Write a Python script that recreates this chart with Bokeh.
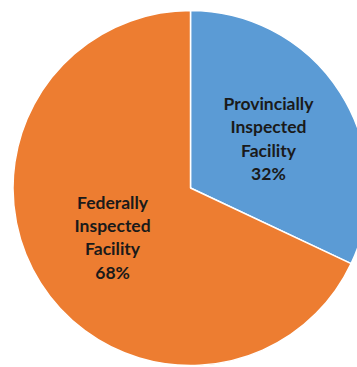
import math
from bokeh.plotting import figure
from bokeh.models import ColumnDataSource, Range1d
from bokeh.core.properties import value
from bokeh.embed import file_html
from bokeh.resources import INLINE

categories = ["Provincially\nInspected\nFacility", "Federally\nInspected\nFacility"]
shares = [32, 68]
colors = ["#5B9BD5", "#ED7D31"]

W, H = 357, 367
cx, cy, R = 190, 179.5, 177.5

total = sum(shares)
starts, ends, lx, ly, labels = [], [], [], [], []
acc = 0.0
for cat, v in zip(categories, shares):
    a0 = math.pi / 2 - 2 * math.pi * acc / total
    acc += v
    a1 = math.pi / 2 - 2 * math.pi * acc / total
    starts.append(a0)
    ends.append(a1)
    mid = (a0 + a1) / 2
    lx.append(cx + 0.52 * R * math.cos(mid))
    ly.append(cy + 0.52 * R * math.sin(mid))
    labels.append(f"{cat}\n{v}%")

src = ColumnDataSource(dict(start=starts, end=ends, color=colors, lx=lx, ly=ly, label=labels))

p = figure(width=W, height=H, output_backend="svg", toolbar_location=None,
           x_range=Range1d(0, W), y_range=Range1d(0, H), min_border=0)
p.axis.visible = False
p.grid.visible = False
p.outline_line_color = None
p.background_fill_color = "white"

p.wedge(x=cx, y=cy, radius=R, start_angle="start", end_angle="end", direction="clock",
        fill_color="color", line_color="white", line_width=1.5, source=src)
p.text(x="lx", y="ly", text="label", source=src, text_align="center", text_baseline="middle",
       text_font=value("Lato"), text_font_style="bold", text_font_size="17.5px",
       text_line_height=1.1, text_color="#1a1a1a")

open("out.html", "w").write(file_html(p, INLINE))
